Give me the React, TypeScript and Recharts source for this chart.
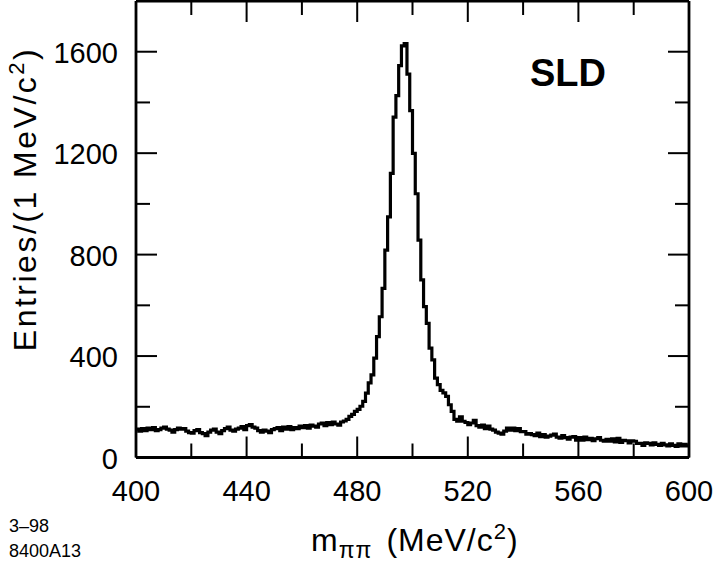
import { LineChart, Line, XAxis, YAxis } from "recharts";

// entries per 1 MeV bin, first bin starts at 400 MeV
const binStart = 400;
const counts = [
  112, 104, 114, 106, 116, 110, 118, 106, 110, 116,
  120, 112, 108, 100, 110, 116, 112, 114, 104, 98,
  96, 106, 110, 98, 94, 86, 100, 108, 112, 100,
  94, 106, 114, 120, 108, 104, 112, 116, 122, 110,
  126, 130, 120, 116, 106, 100, 108, 104, 98, 110,
  114, 118, 106, 120, 112, 122, 110, 118, 114, 124,
  118, 126, 116, 128, 124, 120, 132, 136, 126, 138,
  130, 140, 132, 128, 140, 144, 150, 162, 170, 182,
  190, 202, 221, 254, 294, 326, 392, 477, 555, 667,
  818, 949, 1120, 1342, 1427, 1545, 1623, 1632, 1512, 1368,
  1199, 1040, 857, 700, 595, 529, 431, 385, 313, 287,
  265, 255, 241, 208, 182, 150, 143, 160, 143, 138,
  130, 136, 146, 126, 120, 128, 114, 124, 112, 108,
  100, 96, 92, 104, 116, 108, 116, 106, 114, 102,
  102, 92, 94, 90, 86, 96, 82, 90, 80, 84,
  88, 92, 80, 76, 86, 78, 72, 80, 82, 68,
  78, 68, 80, 70, 76, 66, 74, 78, 68, 64,
  72, 64, 74, 62, 76, 60, 68, 66, 58, 66,
  64, 56, 56, 48, 58, 56, 50, 58, 52, 48,
  56, 50, 46, 54, 48, 44, 54, 46, 52, 46,
];

const xTicks = [400, 420, 440, 460, 480, 500, 520, 540, 560, 580, 600];
const xLabeled = [400, 440, 480, 520, 560, 600];
const yTicks = [0, 200, 400, 600, 800, 1000, 1200, 1400, 1600];
const yLabeled = [0, 400, 800, 1200, 1600];

// last point closes the final bin for the step line
const data = counts
  .map((n, i) => ({ m: binStart + i, n }))
  .concat([{ m: binStart + counts.length, n: counts[counts.length - 1] }]);

const font = "'Liberation Sans', Arial, Helvetica, sans-serif";
const MAJOR = 21;
const MINOR = 14;

function BottomTick(props: any) {
  const { x, y, payload } = props;
  const major = xLabeled.includes(payload.value);
  return (
    <g>
      <line x1={x} y1={y} x2={x} y2={y - (major ? MAJOR : MINOR)} stroke="#000" strokeWidth={2} />
      {major && (
        <text x={x} y={y + 43.5} textAnchor="middle" fontSize={29} fontFamily={font} fill="#000">
          {payload.value}
        </text>
      )}
    </g>
  );
}

function TopTick(props: any) {
  const { x, y, payload } = props;
  const major = xLabeled.includes(payload.value);
  return <line x1={x} y1={y} x2={x} y2={y + (major ? MAJOR : MINOR)} stroke="#000" strokeWidth={2} />;
}

function LeftTick(props: any) {
  const { x, y, payload } = props;
  const major = yLabeled.includes(payload.value);
  return (
    <g>
      <line x1={x} y1={y} x2={x + (major ? MAJOR : MINOR)} y2={y} stroke="#000" strokeWidth={2} />
      {major && (
        <text x={x - 18} y={y + 11} textAnchor="end" fontSize={29} fontFamily={font} fill="#000">
          {payload.value}
        </text>
      )}
    </g>
  );
}

function RightTick(props: any) {
  const { x, y, payload } = props;
  const major = yLabeled.includes(payload.value);
  return <line x1={x} y1={y} x2={x - (major ? MAJOR : MINOR)} y2={y} stroke="#000" strokeWidth={2} />;
}

export default function App() {
  return (
    <div style={{ position: "absolute", left: 0, top: 0, width: 713, height: 565, background: "#fff" }}>
      <LineChart
        width={713}
        height={565}
        data={data}
        margin={{ top: 0, right: 23, bottom: 106.5, left: 135 }}
      >
        <XAxis
          xAxisId="bottom"
          dataKey="m"
          type="number"
          domain={[400, 600]}
          ticks={xTicks}
          height={1}
          tickSize={0}
          tickMargin={0}
          tickLine={false}
          tick={<BottomTick />}
          axisLine={{ stroke: "#000", strokeWidth: 2.8 }}
          interval={0}
          allowDataOverflow
        />
        <XAxis
          xAxisId="top"
          orientation="top"
          dataKey="m"
          type="number"
          domain={[400, 600]}
          ticks={xTicks}
          height={1}
          tickSize={0}
          tickMargin={0}
          tickLine={false}
          tick={<TopTick />}
          axisLine={{ stroke: "#000", strokeWidth: 2.8 }}
          interval={0}
          allowDataOverflow
        />
        <YAxis
          yAxisId="left"
          type="number"
          domain={[0, 1800]}
          ticks={yTicks}
          width={1}
          tickSize={0}
          tickMargin={0}
          tickLine={false}
          tick={<LeftTick />}
          axisLine={{ stroke: "#000", strokeWidth: 2.8 }}
          interval={0}
          allowDataOverflow
        />
        <YAxis
          yAxisId="right"
          orientation="right"
          type="number"
          domain={[0, 1800]}
          ticks={yTicks}
          width={1}
          tickSize={0}
          tickMargin={0}
          tickLine={false}
          tick={<RightTick />}
          axisLine={{ stroke: "#000", strokeWidth: 2.8 }}
          interval={0}
          allowDataOverflow
        />
        <Line
          xAxisId="bottom"
          yAxisId="left"
          type="stepAfter"
          dataKey="n"
          stroke="#000"
          strokeWidth={3.2}
          dot={false}
          isAnimationActive={false}
        />
        <text x={530} y={86} fontSize={38} fontWeight="bold" fontFamily={font} fill="#000">
          SLD
        </text>
        <text
          transform="translate(36, 199) rotate(-90)"
          textAnchor="middle"
          fontSize={32}
          letterSpacing={2.5}
          fontFamily={font}
          fill="#000"
        >
          Entries/(1 MeV/c
          <tspan dy={-12} fontSize={22}>2</tspan>
          <tspan dy={12}>)</tspan>
        </text>
        <text x={311} y={551} fontSize={32} letterSpacing={1} fontFamily={font} fill="#000">
          m
          <tspan dy={7} fontSize={23}>ππ</tspan>
          <tspan dy={-7} dx={14}>(MeV/c</tspan>
          <tspan dy={-12} fontSize={22}>2</tspan>
          <tspan dy={12}>)</tspan>
        </text>
        <text x={9} y={532} fontSize={18} fontFamily={font} fill="#000">
          3–98
        </text>
        <text x={9} y={557} fontSize={18} fontFamily={font} fill="#000">
          8400A13
        </text>
      </LineChart>
    </div>
  );
}
